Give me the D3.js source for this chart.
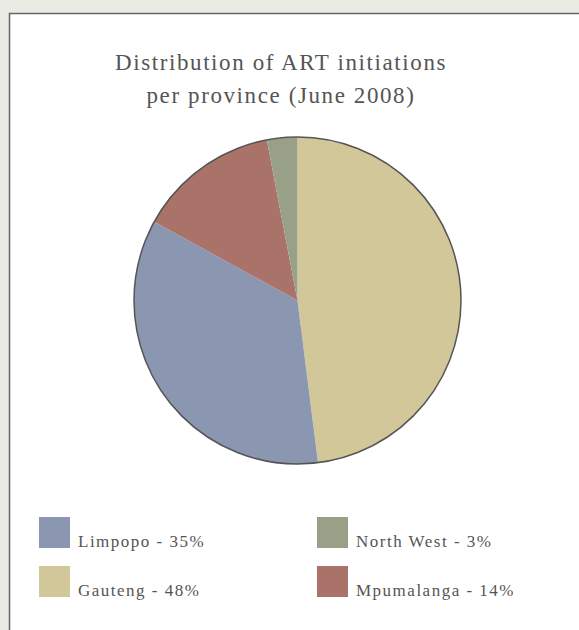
<!DOCTYPE html>
<html>
<head>
<meta charset="utf-8">
<script src="https://cdn.jsdelivr.net/npm/d3@7"></script>
<style>
  body { margin: 0; background: #ebebe6; }
  svg { display: block; }
  text { font-family: "Liberation Serif", "DejaVu Serif", serif; fill: #555; }
</style>
</head>
<body>
<div id="chart"></div>
<script>
var provinces = ["Gauteng", "Limpopo", "Mpumalanga", "North West"];
var shares = [48, 35, 14, 3];
var colors = ["#d2c799", "#8b96b0", "#a9736a", "#98a088"];
var titleLines = ["Distribution of ART initiations", "per province (June 2008)"];
// legend order as in the picture (row by row)
var legendOrder = ["Limpopo", "North West", "Gauteng", "Mpumalanga"];

var width = 579, height = 630;

var svg = d3.select("#chart").append("svg")
    .attr("width", width)
    .attr("height", height);

// white panel
svg.append("rect")
    .attr("x", 9.5).attr("y", 13.5)
    .attr("width", width).attr("height", height)
    .attr("fill", "#fff")
    .attr("stroke", "#666")
    .attr("stroke-width", 1.5);

svg.append("text")
    .attr("text-anchor", "middle")
    .attr("font-size", 23)
    .attr("letter-spacing", 1.6)
    .selectAll("tspan")
    .data(titleLines)
    .enter().append("tspan")
    .attr("x", 281)
    .attr("y", function(d, i) { return 70 + i * 33; })
    .text(function(d) { return d; });

var color = d3.scaleOrdinal().domain(provinces).range(colors);

var pie = d3.pie().sort(null).value(function(d) { return d.v; });
var r = 163.5;
var arc = d3.arc().innerRadius(0).outerRadius(r);

var data = provinces.map(function(p, i) { return { name: p, v: shares[i] }; });

var g = svg.append("g").attr("transform", "translate(297.5,300.5)");

g.selectAll("path")
    .data(pie(data))
    .enter().append("path")
    .attr("d", arc)
    .attr("fill", function(d) { return color(d.data.name); });

g.append("circle")
    .attr("r", r)
    .attr("fill", "none")
    .attr("stroke", "#555")
    .attr("stroke-width", 1.5);

var legend = svg.selectAll(".legend")
    .data(legendOrder)
    .enter().append("g")
    .attr("class", "legend")
    .attr("transform", function(d, i) {
        return "translate(" + (i % 2 === 0 ? 39 : 317) + "," + (517 + Math.floor(i / 2) * 49) + ")";
    });

legend.append("rect")
    .attr("width", 31).attr("height", 31)
    .attr("fill", function(d) { return color(d); });

legend.append("text")
    .attr("x", 39).attr("y", 30)
    .attr("font-size", 17)
    .attr("letter-spacing", 1.5)
    .text(function(d) { return d + " - " + shares[provinces.indexOf(d)] + "%"; });
</script>
</body>
</html>
